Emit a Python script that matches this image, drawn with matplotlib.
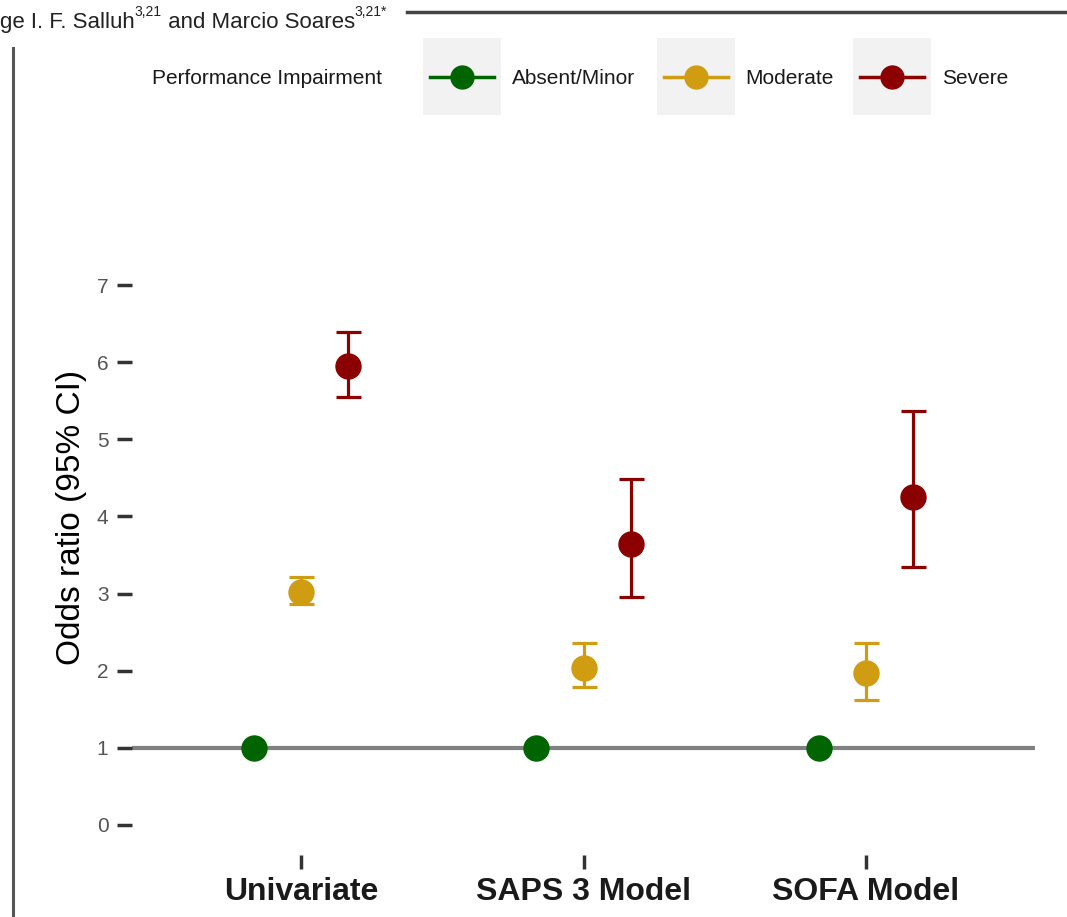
import numpy as np
import matplotlib
matplotlib.use("Agg")
import matplotlib.pyplot as plt
from matplotlib.lines import Line2D
from matplotlib.patches import Rectangle

plt.rcParams['font.family'] = ['Liberation Sans', 'DejaVu Sans']

# data
models = ['Univariate', 'SAPS 3 Model', 'SOFA Model']
groups = ['Absent/Minor', 'Moderate', 'Severe']
colors = ['#006400', '#D09D12', '#8B0000']

or_absent = [1.0, 1.0, 1.0]
or_moderate = [3.02, 2.04, 1.97]
lo_moderate = [2.87, 1.79, 1.62]
hi_moderate = [3.22, 2.36, 2.36]
or_severe = [5.95, 3.64, 4.25]
lo_severe = [5.55, 2.95, 3.34]
hi_severe = [6.39, 4.48, 5.37]

W, H = 1067, 917
def fx(px):
    return px / W
def fy(py):
    return 1 - py / H

fig = plt.figure(figsize=(10.67, 9.17), dpi=100)
ax = fig.add_axes([fx(132), fy(855), fx(1035) - fx(132), fy(255) - fy(855)])

x = np.arange(1, len(models) + 1)
dodge = 1 / 6.0

ax.axhline(1, color='#808080', lw=3, zorder=1)

ax.plot(x - dodge, or_absent, 'o', ms=18, color=colors[0], zorder=3)

m = np.array(or_moderate)
ax.errorbar(x, m, yerr=[m - np.array(lo_moderate), np.array(hi_moderate) - m],
            fmt='o', ms=18, color=colors[1], elinewidth=2.3, capsize=9,
            capthick=2.3, zorder=3)

s = np.array(or_severe)
ax.errorbar(x + dodge, s, yerr=[s - np.array(lo_severe), np.array(hi_severe) - s],
            fmt='o', ms=18, color=colors[2], elinewidth=2.3, capsize=9,
            capthick=2.3, zorder=3)

ax.set_xlim(0.4, 3.6)
ax.set_ylim(-0.39, 7.39)
ax.set_yticks(range(0, 8))
ax.set_xticks(x)
ax.set_xticklabels(models, fontsize=23, fontweight='bold', color='#1a1a1a')
ax.tick_params(axis='y', labelsize=15, labelcolor='#555555', length=11,
               width=2.5, color='#333333', pad=6)
ax.tick_params(axis='x', length=10, width=2.5, color='#333333', pad=6)
for sp in ax.spines.values():
    sp.set_visible(False)
ax.set_ylabel('Odds ratio (95% CI)', fontsize=24)
ax.yaxis.set_label_coords(-0.05, 0.563)

# legend drawn by hand, ggplot style (title on the left, grey key boxes)
fig.text(fx(152), fy(78), 'Performance Impairment', fontsize=15,
         va='center', ha='left', color='#1a1a1a')
key_left = [423, 657, 853]
label_x = [512, 745, 942]
for i in range(3):
    fig.add_artist(Rectangle((fx(key_left[i]), fy(115)), fx(78), fy(38) - fy(115),
                             transform=fig.transFigure, facecolor='#F2F2F2',
                             edgecolor='none'))
    cx = key_left[i] + 39
    fig.add_artist(Line2D([fx(cx - 32), fx(cx + 32)], [fy(77), fy(77)],
                          transform=fig.transFigure, color=colors[i], lw=2.5))
    fig.add_artist(Line2D([fx(cx)], [fy(77)], transform=fig.transFigure,
                          marker='o', ms=16.5, color=colors[i]))
    fig.text(fx(label_x[i]), fy(78), groups[i], fontsize=15, va='center',
             ha='left', color='#1a1a1a')

# page decorations from the screenshot: author line with superscripts
pieces = [('ge I. F. Salluh', False), ('3,21', True), (' and Marcio Soares', False), ('3,21*', True)]
renderer = fig.canvas.get_renderer()
xpos = 0.0
for txt, sup in pieces:
    if sup:
        t = fig.text(xpos, fy(16), txt, fontsize=10, va='baseline', ha='left', color='#222222')
    else:
        t = fig.text(xpos, fy(28), txt, fontsize=16, va='baseline', ha='left', color='#222222')
    bb = t.get_window_extent(renderer=renderer)
    xpos = bb.x1 / W

fig.add_artist(Line2D([fx(407), 1], [fy(12), fy(12)], transform=fig.transFigure,
                      color='#444444', lw=2.5))
fig.add_artist(Line2D([fx(13), fx(13)], [fy(48), 0], transform=fig.transFigure,
                      color='#555555', lw=2.2))

fig.savefig('out.png', dpi=100)
